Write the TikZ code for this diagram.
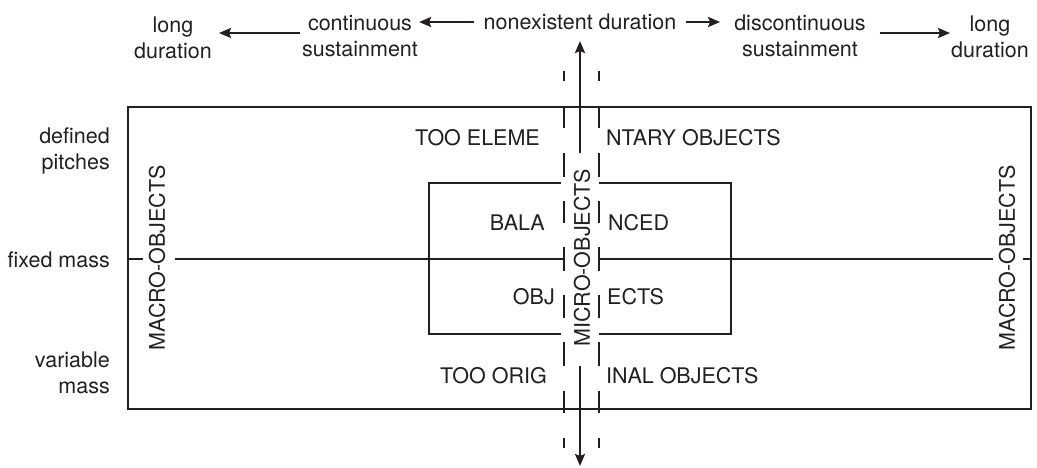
\documentclass[tikz,border=0pt]{standalone}
\usepackage{fontspec}
\setmainfont{TeX Gyre Heros}
\usetikzlibrary{arrows.meta}
\definecolor{ink}{HTML}{231F20}
\tikzset{
  lbl/.style={inner sep=0pt, text=ink, font=\fontsize{21.5}{26}\selectfont, align=center},
  ln/.style={draw=ink, line width=2.4pt},
  arr/.style={ln, -{Stealth[length=12pt,width=10pt,inset=2pt]}},
}
\begin{document}
\begin{tikzpicture}[x=1pt,y=-1pt]
\useasboundingbox (0,0) rectangle (1037,467);
% top row
\node[lbl] (ld1) at (173,38) {long\\duration};
\node[lbl] (cs) at (360,36) {continuous\\sustainment};
\node[lbl] (nd) at (580,22) {nonexistent duration};
\node[lbl] (ds) at (800,36) {discontinuous\\sustainment};
\node[lbl] (ld2) at (990,37) {long\\duration};
\draw[arr] ([xshift=-10pt]nd.west) -- ([xshift=1pt]nd.west -| cs.east);
\draw[arr] ([xshift=10pt]nd.east) -- ([xshift=-14pt]nd.east -| ds.west);
\draw[arr] ([xshift=-2pt,yshift=3pt]cs.west) -- ([xshift=7pt,yshift=3pt]cs.west -| ld1.east);
\draw[arr] ([xshift=14pt,yshift=3pt]ds.east) -- ([xshift=-1pt,yshift=3pt]ds.east -| ld2.west);
% left labels
\node[lbl, align=right, anchor=east] (dp) at (110,151) {defined\\pitches};
\node[lbl, align=right, anchor=east] (fm) at (110,260) {fixed mass};
\node[lbl, align=right, anchor=east] (vm) at (110,373) {variable\\mass};
% outer frame
\draw[ln] (128,107) rectangle (1031,409);
% macro labels
\node[lbl, rotate=90] (macL) at (157,258) {MACRO-OBJECTS};
\node[lbl, rotate=90] (macR) at (1007,258) {MACRO-OBJECTS};
\node[lbl, rotate=90] (mic) at (582,258) {MICRO-OBJECTS};
% middle line
\draw[ln] (128,259) -- (143,259);
\draw[ln] (175,259) -- (564,259);
\draw[ln] (598,259) -- (993,259);
\draw[ln] (1023,259) -- (1031,259);
% inner frame
\draw[ln] (561,183) -- (429,183) -- (429,334) -- (561,334);
\draw[ln] (599,183) -- (731,183) -- (731,334) -- (599,334);
% dashed verticals
\foreach \xx in {564,599}{
  \foreach \a/\b in {71/81,106/128,153/177,201/223,247/271,295/318,342/366,391/413,438/448}{
    \draw[ln] (\xx,\a) -- (\xx,\b);
  }
}
% vertical arrows
\coordinate (upstart) at (580,143);
\coordinate (downstart) at (580,366);
\coordinate (downend) at (580,466);
\draw[arr] (upstart) -- ([yshift=-10pt]nd.south |- upstart) -- (580,41);
\draw[arr] (downstart) -- (downend);
% inner texts
\node[lbl, anchor=east] (t1) at (540,138) {TOO ELEME};
\node[lbl, anchor=west] (t2) at (606,138) {NTARY OBJECTS};
\node[lbl, anchor=east] (t3) at (545,223) {BALA};
\node[lbl, anchor=west] (t4) at (608,223) {NCED};
\node[lbl, anchor=east] (t5) at (555,297) {OBJ};
\node[lbl, anchor=west] (t6) at (607,297) {ECTS};
\node[lbl, anchor=east] (t7) at (547,376) {TOO ORIG};
\node[lbl, anchor=west] (t8) at (606,376) {INAL OBJECTS};
\end{tikzpicture}
\end{document}
